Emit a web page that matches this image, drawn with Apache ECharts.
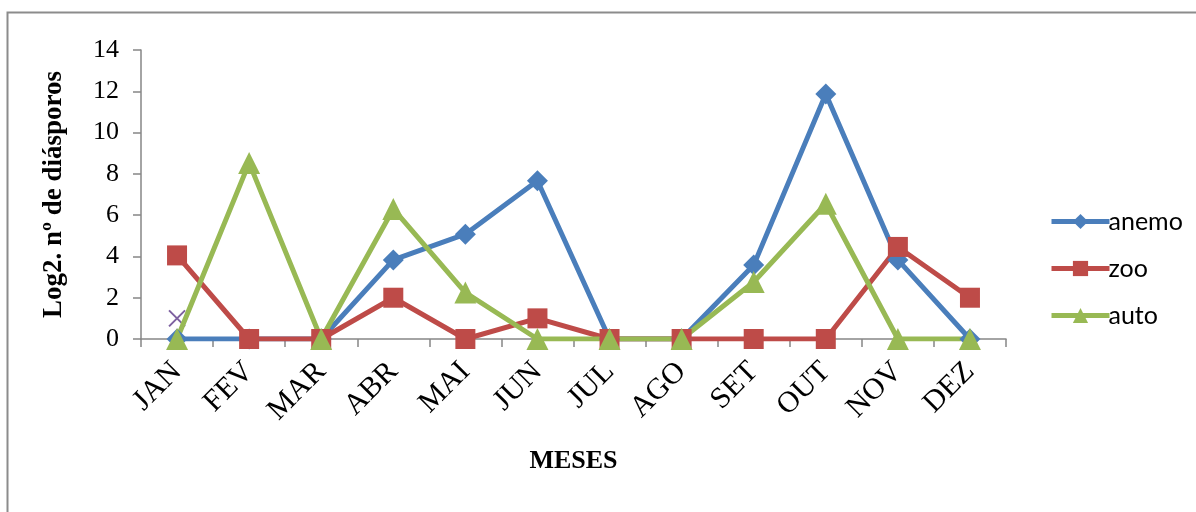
<!DOCTYPE html>
<html>
<head>
<meta charset="utf-8">
<script src="https://cdn.jsdelivr.net/npm/echarts@6/dist/echarts.min.js"></script>
<style>
html,body{margin:0;padding:0;background:#fff;}
#chart{width:1196px;height:512px;}
</style>
</head>
<body>
<div id="chart"></div>
<script>
const months = ['JAN','FEV','MAR','ABR','MAI','JUN','JUL','AGO','SET','OUT','NOV','DEZ'];
const anemo = [0, 0, 0, 3.83, 5.08, 7.67, 0, 0, 3.58, 11.87, 3.83, 0];
const zoo   = [4.05, 0, 0, 2, 0, 1, 0, 0, 0, 0, 4.46, 2];
const auto  = [0, 8.53, 0, 6.3, 2.25, 0, 0, 0, 2.76, 6.55, 0, 0];
const extra = [1, null, null, null, null, null, null, null, null, null, null, null];
const yTicks = [0, 2, 4, 6, 8, 10, 12, 14];

const chart = echarts.init(document.getElementById('chart'));
const serif = '"Liberation Serif", "Times New Roman", serif';
const xPath = 'path://M0,0 L10,10 M10,0 L0,10';

chart.setOption({
  animation: false,
  backgroundColor: '#fff',
  graphic: [{
    type: 'rect',
    shape: {x: 7.5, y: 12.5, width: 1300, height: 700},
    style: {fill: 'none', stroke: '#8c8c8c', lineWidth: 2},
    silent: true
  }],
  grid: {left: 141, right: 190, top: 50, bottom: 173},
  legend: {
    data: ['anemo', 'zoo', 'auto'],
    orient: 'vertical',
    left: 1044,
    top: 204,
    itemGap: 22,
    itemWidth: 58,
    itemHeight: 19,
    lineStyle: {width: 5},
    textStyle: {fontFamily: 'Lato, "Open Sans", sans-serif', fontSize: 25, color: '#000', padding: [0, 0, 0, -6]}
  },
  xAxis: {
    type: 'category',
    data: months,
    boundaryGap: true,
    name: 'MESES',
    nameLocation: 'middle',
    nameGap: 109,
    nameTextStyle: {fontFamily: serif, fontSize: 26, fontWeight: 'bold', color: '#000'},
    axisLine: {lineStyle: {color: '#868686', width: 1.5}},
    axisTick: {show: true, alignWithLabel: false, length: 8, lineStyle: {color: '#868686', width: 1.5}},
    axisLabel: {rotate: 45, fontFamily: serif, fontSize: 30, color: '#000', margin: 28, interval: 0},
    splitLine: {show: false}
  },
  yAxis: {
    type: 'value',
    min: yTicks[0],
    max: yTicks[yTicks.length - 1],
    interval: 2,
    name: 'Log2. nº de diásporos',
    nameLocation: 'middle',
    nameGap: 73,
    nameRotate: 90,
    nameTextStyle: {fontFamily: serif, fontSize: 27, fontWeight: 'bold', color: '#000'},
    axisLine: {show: true, lineStyle: {color: '#868686', width: 1.5}},
    axisTick: {show: true, length: 8, lineStyle: {color: '#868686', width: 1.5}},
    axisLabel: {fontFamily: serif, fontSize: 26, color: '#000', margin: 22},
    splitLine: {show: false}
  },
  series: [
    {
      name: 'anemo', type: 'line', data: anemo,
      symbol: 'diamond', symbolSize: 21,
      lineStyle: {width: 5, color: '#4a7ebb'},
      itemStyle: {color: '#4a7ebb'}
    },
    {
      name: 'zoo', type: 'line', data: zoo,
      symbol: 'rect', symbolSize: 20,
      lineStyle: {width: 5, color: '#be4b48'},
      itemStyle: {color: '#be4b48'}
    },
    {
      name: 'auto', type: 'line', data: auto,
      symbol: 'triangle', symbolSize: 22,
      lineStyle: {width: 5, color: '#98b954'},
      itemStyle: {color: '#98b954'}
    },
    {
      name: 'extra', type: 'line', data: extra,
      symbol: xPath, symbolSize: 16,
      showSymbol: true,
      lineStyle: {width: 0, opacity: 0},
      itemStyle: {color: 'none', borderColor: '#7d60a0', borderWidth: 2},
      z: 1
    }
  ]
});
</script>
</body>
</html>
